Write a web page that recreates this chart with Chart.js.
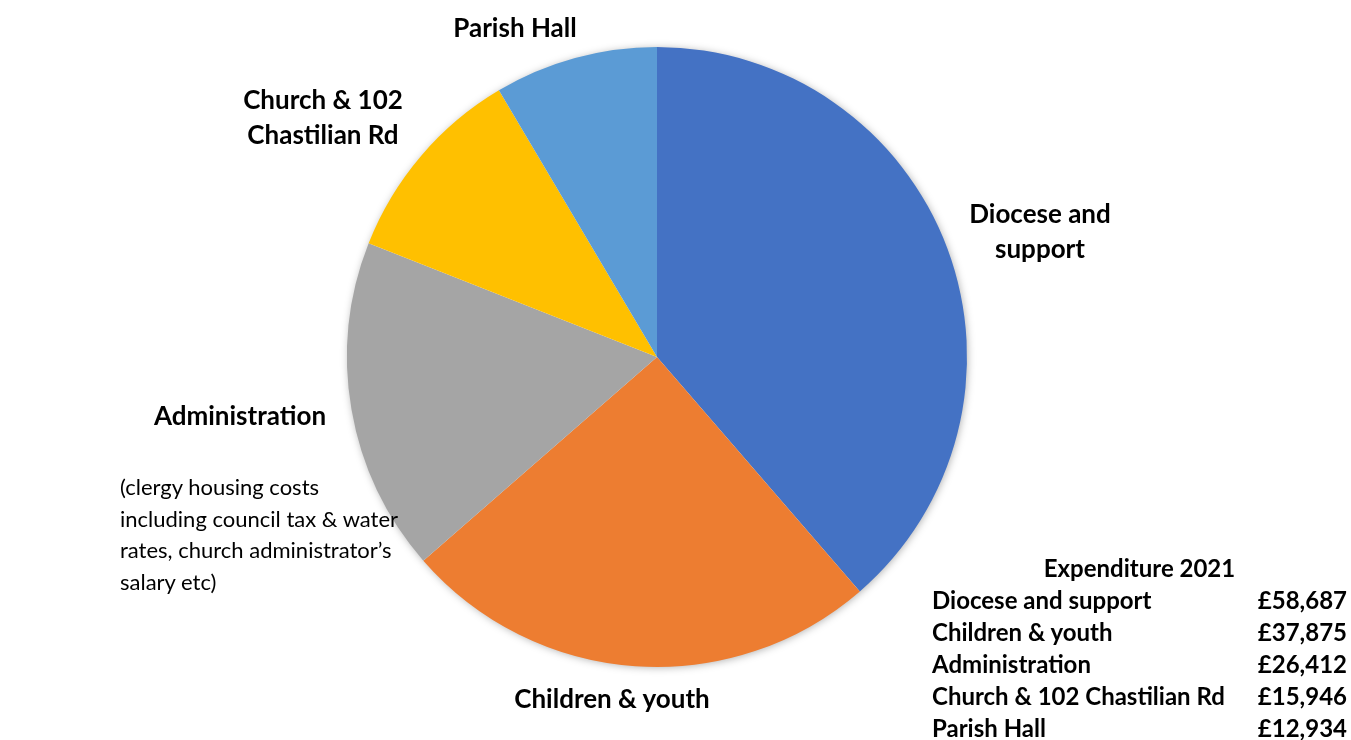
<!DOCTYPE html>
<html>
<head>
<meta charset="utf-8">
<script src="https://cdn.jsdelivr.net/npm/chart.js@4"></script>
<style>
  body { margin: 0; background: #fff; }
  #wrap { position: relative; width: 1351px; height: 740px; font-family: Lato, "Open Sans", sans-serif; color: #000; }
  canvas { position: absolute; left: 0; top: 0; }
  .lbl { position: absolute; font-weight: bold; font-size: 26px; line-height: 35px; text-align: center; white-space: nowrap; transform: translate(-50%, -50%); }
  .note { position: absolute; left: 120px; top: 471px; font-size: 22px; line-height: 31.7px; }
  table { position: absolute; left: 932px; top: 552px; width: 415px; border-collapse: collapse; font-size: 24px; font-weight: bold; }
  td, th { padding: 0; height: 32px; line-height: 32px; white-space: nowrap; text-align: left; }
  th { text-align: center; }
  td.v { text-align: right; }
</style>
</head>
<body>
<div id="wrap">
  <canvas id="myChart" width="1351" height="740"></canvas>
  <div id="labels"></div>
  <div class="note">(clergy housing costs<br>including council tax &amp; water<br>rates, church administrator’s<br>salary etc)</div>
  <table>
    <thead><tr><th colspan="2">Expenditure 2021</th></tr></thead>
    <tbody id="tbl"></tbody>
  </table>
</div>
<script>
const categories = ['Diocese and support', 'Children & youth', 'Administration', 'Church & 102 Chastilian Rd', 'Parish Hall']
const values = [58687, 37875, 26412, 15946, 12934]
const colours = ['#4472C4', '#ED7D31', '#A5A5A5', '#FFC000', '#5B9BD5']

// label text around the pie (line breaks as in the picture)
const pieLabels = [
  { text: 'Diocese and<br>support', x: 1040, y: 231 },
  { text: 'Children &amp; youth', x: 612, y: 698 },
  { text: 'Administration', x: 240, y: 415 },
  { text: 'Church &amp; 102<br>Chastilian Rd', x: 323, y: 117 },
  { text: 'Parish Hall', x: 515, y: 27 }
]

const labelsDiv = document.getElementById('labels')
pieLabels.forEach(function(l) {
  const d = document.createElement('div')
  d.className = 'lbl'
  d.style.left = l.x + 'px'
  d.style.top = l.y + 'px'
  d.innerHTML = l.text
  labelsDiv.appendChild(d)
})

// table with the amounts
const tbody = document.getElementById('tbl')
categories.forEach(function(c, i) {
  const row = document.createElement('tr')
  const nameCell = document.createElement('td')
  const valCell = document.createElement('td')
  nameCell.textContent = c
  valCell.textContent = '£' + values[i].toLocaleString('en-GB')
  valCell.className = 'v'
  row.appendChild(nameCell)
  row.appendChild(valCell)
  tbody.appendChild(row)
})

// soft shadow behind the pie
const pieShadow = {
  id: 'pieShadow',
  beforeDatasetsDraw(chart) {
    const arc = chart.getDatasetMeta(0).data[0]
    if (!arc) return
    const ctx = chart.ctx
    ctx.save()
    ctx.shadowColor = 'rgba(0,0,0,0.35)'
    ctx.shadowBlur = 8
    ctx.shadowOffsetX = 1
    ctx.shadowOffsetY = 1
    ctx.fillStyle = '#fff'
    ctx.beginPath()
    ctx.arc(arc.x, arc.y, arc.outerRadius - 1, 0, Math.PI * 2)
    ctx.fill()
    ctx.restore()
  }
}

const ctx = document.getElementById('myChart')
// eslint-disable-next-line no-unused-vars
const myChart = new Chart(ctx, {
  type: 'pie',
  data: {
    labels: categories,
    datasets: [{
      data: values,
      backgroundColor: colours,
      borderWidth: 0
    }]
  },
  options: {
    responsive: false,
    animation: false,
    layout: {
      padding: { left: 347, right: 384, top: 47, bottom: 73 }
    },
    plugins: {
      legend: { display: false },
      tooltip: { enabled: false }
    }
  },
  plugins: [pieShadow]
})
</script>
</body>
</html>
